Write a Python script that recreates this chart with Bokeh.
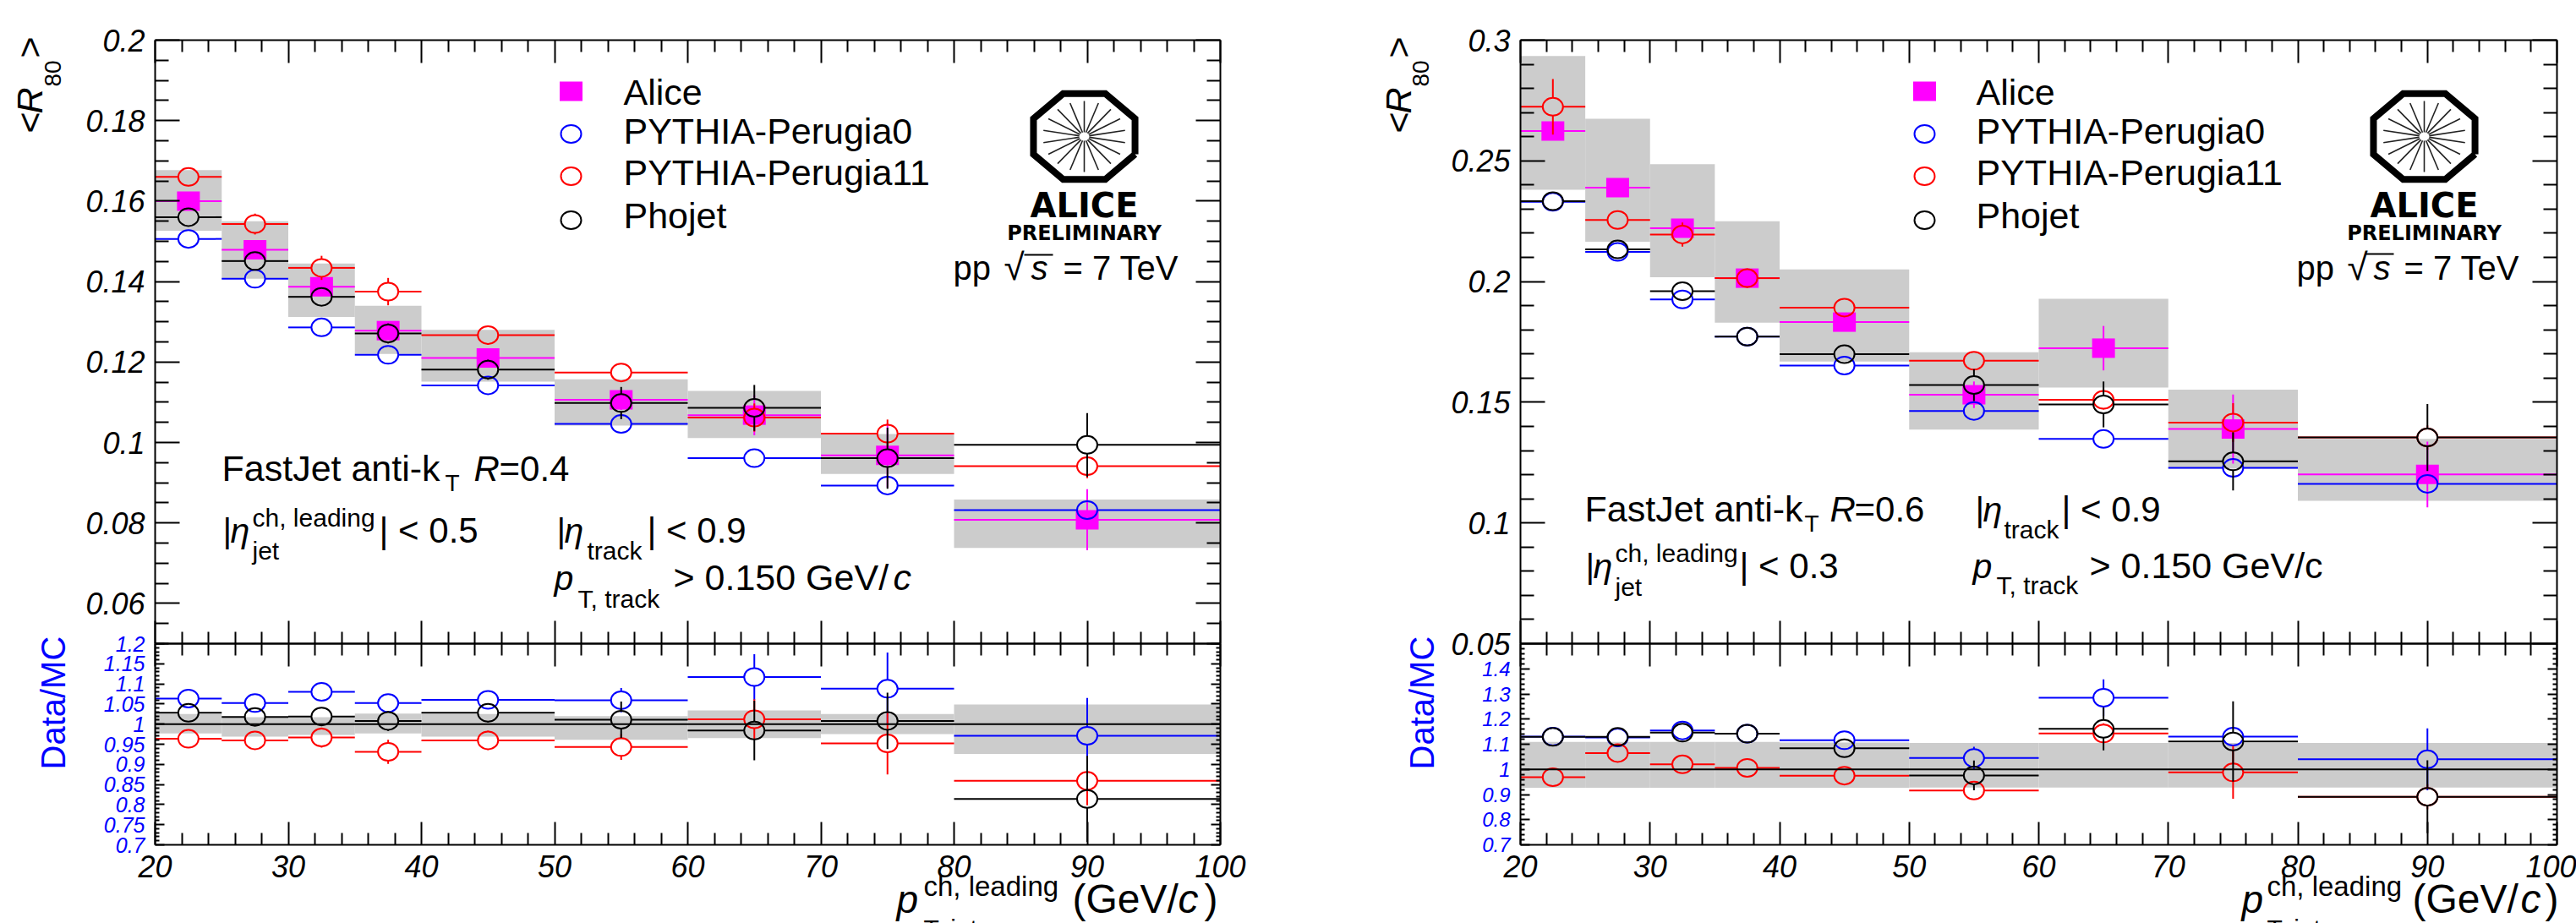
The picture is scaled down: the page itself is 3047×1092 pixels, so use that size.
import numpy as np
from bokeh.embed import file_html
from bokeh.resources import INLINE
from bokeh.plotting import figure
from bokeh.layouts import row, column
from bokeh.models import Range1d, LinearAxis, FixedTicker, Label

# ---------- data ----------
bin_low = [20, 25, 30, 35, 40, 50, 60, 70, 80]
bin_high = [25, 30, 35, 40, 50, 60, 70, 80, 100]
centers = [22.5, 27.5, 32.5, 37.5, 45, 55, 65, 75, 90]
x_major = [20, 30, 40, 50, 60, 70, 80, 90, 100]
x_labels = ["20", "30", "40", "50", "60", "70", "80", "90", "100"]

# R = 0.4
l_alice = [.1600, .1479, .1387, .1278, .1210, .1106, .1068, .0968, .0808]
l_alice_err = [.001, .001, .001, .001, .0015, .0025, .005, .008, .0076]
l_sys_hi = [.1677, .1550, .1445, .1340, .1280, .1157, .1128, .1021, .0858]
l_sys_lo = [.1526, .1407, .1312, .1220, .1151, .1042, .1011, .0922, .0738]
l_p0 = [.1506, .1407, .1286, .1218, .1142, .1046, .0961, .0893, .0832]
l_p0_err = [.001, .001, .001, .001, .001, .001, .0015, .002, .0023]
l_p11 = [.1660, .1543, .1434, .1375, .1267, .1174, .1062, .1022, .0941]
l_p11_err = [.0023, .0026, .003, .0034, .0024, .002, .0035, .0035, .003]
l_ph = [.1560, .1451, .1362, .1271, .1181, .1098, .1086, .0961, .0994]
l_ph_err = [.0015, .0022, .0022, .0025, .0025, .004, .0057, .0076, .0079]
l_rband_hi = [1.025, 1.017, 1.017, 1.026, 1.025, 1.020, 1.034, 1.025, 1.049]
l_rband_lo = [.977, .969, .973, .977, .969, .961, .965, .975, .926]
l_r_p0 = [1.0634, 1.0523, 1.080, 1.0523, 1.0603, 1.0595, 1.117, 1.088, .971]
l_r_p0_err = [.01, .01, .01, .01, .012, .03, .057, .09, .094]
l_r_p11 = [.9635, .9596, .9667, .931, .9596, .943, 1.012, .952, .859]
l_r_p11_err = [.02, .02, .025, .03, .024, .032, .05, .077, .061]
l_r_ph = [1.028, 1.018, 1.019, 1.008, 1.028, 1.011, .984, 1.008, .814]
l_r_ph_err = [.015, .015, .015, .025, .024, .045, .074, .07, .107]

# R = 0.6
r_alice = [.2624, .2389, .2221, .2014, .1832, .1531, .1724, .1389, .1201]
r_alice_err = [.003, .002, .002, .002, .0025, .0055, .0092, .0143, .0136]
r_sys_hi = [.2934, .2674, .2486, .2250, .2050, .1707, .1929, .1552, .1348]
r_sys_lo = [.2380, .2165, .2018, .1830, .1669, .1387, .1561, .1225, .1092]
r_p0 = [.2330, .2123, .1926, .1772, .1652, .1464, .1348, .1228, .1162]
r_p0_err = [.002, .002, .002, .002, .002, .002, .002, .002, .003]
r_p11 = [.2724, .2255, .2195, .2014, .1892, .1672, .1510, .1416, .1354]
r_p11_err = [.0115, .0035, .005, .004, .0035, .003, .004, .008, .005]
r_ph = [.2333, .2133, .1960, .1772, .1699, .1571, .1491, .1255, .1354]
r_ph_err = [.003, .003, .003, .003, .0035, .0066, .0095, .012, .0139]
r_rband_hi = [1.109, 1.109, 1.109, 1.109, 1.107, 1.105, 1.105, 1.105, 1.105]
r_rband_lo = [.927, .927, .927, .927, .927, .928, .928, .928, .928]
r_r_p0 = [1.130, 1.1266, 1.155, 1.142, 1.116, 1.045, 1.285, 1.130, 1.040]
r_r_p0_err = [.01, .015, .02, .01, .03, .045, .073, .03, .123]
r_r_p11 = [.969, 1.065, 1.020, 1.006, .975, .916, 1.143, .988, .891]
r_r_p11_err = [.035, .02, .03, .03, .03, .03, .04, .105, .05]
r_r_ph = [1.129, 1.129, 1.146, 1.142, 1.084, .976, 1.161, 1.111, .891]
r_r_ph_err = [.015, .015, .025, .03, .03, .059, .085, .16, .145]

l_y_major = [.06, .08, .10, .12, .14, .16, .18, .20]
l_y_labels = ["0.06", "0.08", "0.1", "0.12", "0.14", "0.16", "0.18", "0.2"]
r_y_major = [.05, .10, .15, .20, .25, .30]
r_y_labels = ["0.05", "0.1", "0.15", "0.2", "0.25", "0.3"]
l_r_major = [.70, .75, .80, .85, .90, .95, 1.0, 1.05, 1.10, 1.15, 1.20]
l_r_labels = ["0.7", "0.75", "0.8", "0.85", "0.9", "0.95", "1", "1.05", "1.1", "1.15", "1.2"]
r_r_major = [.7, .8, .9, 1.0, 1.1, 1.2, 1.3, 1.4]
r_r_labels = ["0.7", "0.8", "0.9", "1", "1.1", "1.2", "1.3", "1.4"]

series_names = ["Alice", "PYTHIA-Perugia0", "PYTHIA-Perugia11", "Phojet"]
MAG, BLUE, RED, BLACK, GRAY = "#ff00ff", "#0000ff", "#ff0000", "#000000", "#cccccc"
FONT = "Liberation Sans"
x_minor = [float(v) for v in np.arange(20, 100.1, 2) if v % 10]

W, H = 3047, 1092
BASE = 0.36   # the baseline of a Label lands lower than asked, in proportion to its size
# Transparent sheet over the whole page, in page pixels, for titles and annotations.
sheet = figure(width=W, height=H, output_backend="svg", toolbar_location=None,
               x_range=Range1d(0, W), y_range=Range1d(H, 0), x_axis_type=None, y_axis_type=None,
               min_border=0, outline_line_color=None, background_fill_alpha=0, border_fill_alpha=0,
               margin=(-H, 0, 0, 0))
sheet.grid.visible = False


def rng(start, stop, step):
    return [round(float(v), 4) for v in np.arange(start, stop + step / 2, step)]


def text(px, py, s, size, italic=False, color=BLACK, font=FONT, bold=False, angle=0, align="left"):
    style = "bold" if bold else ("italic" if italic else "normal")
    if angle:
        px -= BASE * size
    else:
        py -= BASE * size
    sheet.add_layout(Label(x=px, y=py, text=s, text_font=font, text_font_size=f"{size}px",
                           text_font_style=style, text_color=color, text_align=align,
                           text_baseline="alphabetic", angle=angle))


def logo(cx, cy):
    ang = np.radians(22.5 + 45 * np.arange(9))
    sheet.line(cx + 65 * np.cos(ang), cy + 55 * np.sin(ang), line_color=BLACK, line_width=8, line_join="miter")
    a = np.radians(np.arange(0, 360, 20) + 10)
    sheet.segment(cx + 6 * np.cos(a), cy + 5 * np.sin(a), cx + 49 * np.cos(a), cy + 42 * np.sin(a),
                  line_color="#222222", line_width=1.6)
    text(cx, 257, "ALICE", 40, font="DejaVu Sans", bold=True, align="center")
    text(cx, 284, "PRELIMINARY", 24, font="DejaVu Sans", bold=True, align="center")


def overline(px0, px1, py):
    sheet.segment([px0], [py], [px1], [py], line_color=BLACK, line_width=2)


def legend(swatch_x, text_x):
    sheet.rect([swatch_x], [107.5], width=27, height=23, fill_color=MAG, line_color=None)
    for col, sy in zip((BLUE, RED, BLACK), (158, 208, 260)):
        sheet.ellipse([swatch_x], [sy], width=24, height=21, fill_color=None, line_color=col, line_width=2)
    for name, base in zip(series_names, (123.6, 169.7, 219, 270)):
        text(text_x, base, name, 43)


class Panel:
    def __init__(self, px0, px1, py0, py1, yrange, width, height, bl, br, bt, bb, margin=None):
        self.px0, self.px1, self.py0, self.py1, self.yr = px0, px1, py0, py1, yrange
        self.kx = 80 / (px1 - px0)
        self.ky = (yrange[1] - yrange[0]) / (py1 - py0)
        self.p = figure(width=width, height=height, output_backend="svg", toolbar_location=None,
                        x_range=Range1d(20, 100), y_range=Range1d(*yrange),
                        min_border_left=bl, min_border_right=br, min_border_top=bt, min_border_bottom=bb,
                        outline_line_color=None, background_fill_alpha=0, border_fill_alpha=0,
                        margin=margin)
        self.p.grid.visible = False

    def axes(self, y_major, y_labels, y_minor, ymaj, ymin, xmaj_lab, label_size, label_color):
        p = self.p
        def common(ax):
            ax.axis_line_width = 2
            ax.axis_line_color = BLACK
            ax.major_tick_line_width = 2
            ax.minor_tick_line_width = 2
            ax.major_tick_line_color = BLACK
            ax.minor_tick_line_color = BLACK
            ax.major_tick_out = 0
            ax.minor_tick_out = 0
        def hide(ax, ticks):
            ax.major_label_overrides = {t: "" for t in ticks}
            ax.major_label_text_font_size = "1px"
            ax.major_label_standoff = 0
        left = p.yaxis[0]
        right = LinearAxis()
        p.add_layout(right, "right")
        for ax in (left, right):
            common(ax)
            ax.ticker = FixedTicker(ticks=y_major, minor_ticks=y_minor)
            ax.major_tick_in = ymaj
            ax.minor_tick_in = ymin
        left.major_label_overrides = dict(zip(y_major, y_labels))
        left.major_label_text_font = FONT
        left.major_label_text_font_style = "italic"
        left.major_label_text_font_size = f"{label_size}px"
        left.major_label_text_color = label_color
        left.major_label_standoff = 12
        hide(right, y_major)
        below = p.xaxis[0]
        above = LinearAxis()
        p.add_layout(above, "above")
        for ax in (below, above):
            common(ax)
            ax.ticker = FixedTicker(ticks=x_major, minor_ticks=x_minor)
            ax.major_tick_in = 27
            ax.minor_tick_in = 14
        hide(above, x_major)
        if xmaj_lab:
            below.major_label_overrides = dict(zip(x_major, x_labels))
            below.major_label_text_font = FONT
            below.major_label_text_font_style = "italic"
            below.major_label_text_font_size = "36px"
            below.major_label_text_color = BLACK
            below.major_label_standoff = 12
        else:
            hide(below, x_major)

    def band(self, lo, hi):
        self.p.quad(left=bin_low, right=bin_high, bottom=lo, top=hi, fill_color=GRAY, line_color=None)

    def series(self, vals, errs, color, gap=True):
        p = self.p
        rx, ry = (12.0, 10.5) if gap else (0, 0)
        gx, gy = rx * self.kx, ry * self.ky
        v, e = np.array(vals, float), np.array(errs, float)
        c = np.array(centers, float)
        # ROOT stops the bars at the edge of an open marker
        p.segment(bin_low, v, c - gx, v, line_color=color, line_width=2)
        p.segment(c + gx, v, bin_high, v, line_color=color, line_width=2)
        up = e > gy
        p.segment(c[up], v[up] + gy, c[up], v[up] + e[up], line_color=color, line_width=2)
        p.segment(c[up], v[up] - e[up], c[up], v[up] - gy, line_color=color, line_width=2)
        if gap:
            p.ellipse(centers, vals, width=24, height=21, width_units="screen", height_units="screen",
                      fill_color=None, line_color=color, line_width=2)
        else:
            p.rect(centers, vals, width=27, height=23, width_units="screen", height_units="screen",
                   fill_color=color, line_color=None)


A90 = np.pi / 2

# ---------- R = 0.4 main ----------
a = Panel(183, 1443, 47, 761, (.05, .2), 1620, 781, 183, 177, 47, 20)
a.axes(l_y_major, l_y_labels, [v for v in rng(.05, .2, .005) if round(v * 1000) % 20], 29, 16, False, 36, BLACK)
a.band(l_sys_lo, l_sys_hi)
a.series(l_alice, l_alice_err, MAG, gap=False)
a.series(l_p0, l_p0_err, BLUE)
a.series(l_p11, l_p11_err, RED)
a.series(l_ph, l_ph_err, BLACK)
legend(675, 737)
logo(1282, 161)
text(1127, 331, "pp", 40)
text(1187, 331, "\u221a", 44)
text(1219, 331, "s", 40, italic=True)
overline(1211, 1245, 301)
text(1257, 331, "= 7 TeV", 40)
text(262, 569, "FastJet anti-k", 43)
text(526, 581, "T", 28)
text(560, 569, "R", 42, italic=True)
text(590, 569, "=0.4", 42)
text(263, 642, "|", 41)
text(272, 642, "\u03b7", 41, italic=True)
text(298, 623, "ch, leading", 30)
text(298, 662, "jet", 30)
text(448, 642, "| < 0.5", 42)
text(658, 642, "|", 41)
text(667, 642, "\u03b7", 41, italic=True)
text(694, 662, "track", 30)
text(765, 642, "| < 0.9", 42)
text(655, 698, "p", 41, italic=True)
text(683, 719, "T, track", 30)
text(796, 698, "> 0.150 GeV/", 43)
text(1056, 698, "c", 43, italic=True)
for px, py, s, sz, it in [(50, 157, "<", 43, False), (50, 134, "R", 43, True),
                          (72, 102, "80", 28, False), (50, 68, ">", 43, False)]:
    text(px, py, s, sz, italic=it, angle=A90)

# ---------- R = 0.4 ratio ----------
b = Panel(183, 1443, 761, 999, (.7, 1.2), 1620, 351, 183, 177, 20, 93, margin=(-40, 0, 0, 0))
b.axes(l_r_major, l_r_labels, [v for v in rng(.7, 1.2, .01) if round(v * 100) % 5], 11, 5, True, 25, BLUE)
b.band(l_rband_lo, l_rband_hi)
b.series(l_r_p0, l_r_p0_err, BLUE)
b.series(l_r_p11, l_r_p11_err, RED)
b.series(l_r_ph, l_r_ph_err, BLACK)
b.p.segment([20], [1.0], [100], [1.0], line_color=BLACK, line_width=2)
text(77, 910, "Data/MC", 40, color=BLUE, angle=A90)
text(1060, 1080, "p", 46, italic=True)
text(1092, 1060, "ch, leading", 33)
text(1092, 1109, "T, jet", 30)
text(1268, 1080, "(GeV/", 48)
text(1393, 1080, "c", 48, italic=True)
text(1424, 1080, ")", 48)

# ---------- R = 0.6 main ----------
c = Panel(1798, 3024, 47, 761, (.05, .3), 1427, 781, 178, 23, 47, 20)
c.axes(r_y_major, r_y_labels, [v for v in rng(.05, .3, .01) if round(v * 100) % 5], 29, 16, False, 36, BLACK)
c.band(r_sys_lo, r_sys_hi)
c.series(r_alice, r_alice_err, MAG, gap=False)
c.series(r_p0, r_p0_err, BLUE)
c.series(r_p11, r_p11_err, RED)
c.series(r_ph, r_ph_err, BLACK)
legend(2276, 2337)
logo(2867, 161)
text(2716, 331, "pp", 40)
text(2776, 331, "\u221a", 44)
text(2807, 331, "s", 40, italic=True)
overline(2798, 2831, 300)
text(2843, 331, "= 7 TeV", 40)
text(1874, 617, "FastJet anti-k", 43)
text(2134, 629, "T", 28)
text(2164, 617, "R", 42, italic=True)
text(2193, 617, "=0.6", 42)
text(1875, 684, "|", 41)
text(1884, 684, "\u03b7", 41, italic=True)
text(1910, 665, "ch, leading", 30)
text(1910, 705, "jet", 30)
text(2057, 684, "| < 0.3", 42)
text(2336, 617, "|", 41)
text(2345, 617, "\u03b7", 41, italic=True)
text(2370, 637, "track", 30)
text(2438, 617, "| < 0.9", 42)
text(2333, 684, "p", 41, italic=True)
text(2361, 703, "T, track", 30)
text(2471, 684, "> 0.150 GeV/c", 43)
for px, py, s, sz, it in [(1669, 157, "<", 43, False), (1669, 134, "R", 43, True),
                          (1690, 102, "80", 28, False), (1669, 68, ">", 43, False)]:
    text(px, py, s, sz, italic=it, angle=A90)

# ---------- R = 0.6 ratio ----------
d = Panel(1798, 3024, 761, 999, (.7, 1.5), 1427, 351, 178, 23, 20, 93, margin=(-40, 0, 0, 0))
d.axes(r_r_major, r_r_labels, [v for v in rng(.7, 1.5, .02) if round(v * 100) % 10], 11, 5, True, 24, BLUE)
d.band(r_rband_lo, r_rband_hi)
d.series(r_r_p0, r_r_p0_err, BLUE)
d.series(r_r_p11, r_r_p11_err, RED)
d.series(r_r_ph, r_r_ph_err, BLACK)
d.p.segment([20], [1.0], [100], [1.0], line_color=BLACK, line_width=2)
text(1696, 910, "Data/MC", 40, color=BLUE, angle=A90)
text(2651, 1080, "p", 46, italic=True)
text(2681, 1060, "ch, leading", 33)
text(2681, 1109, "T, jet", 30)
text(2853, 1080, "(GeV/", 48)
text(2981, 1080, "c", 48, italic=True)
text(3010, 1080, ")", 48)

layout = column(row(column(a.p, b.p), column(c.p, d.p)), sheet)
open("out.html", "w").write(file_html(layout, INLINE))
